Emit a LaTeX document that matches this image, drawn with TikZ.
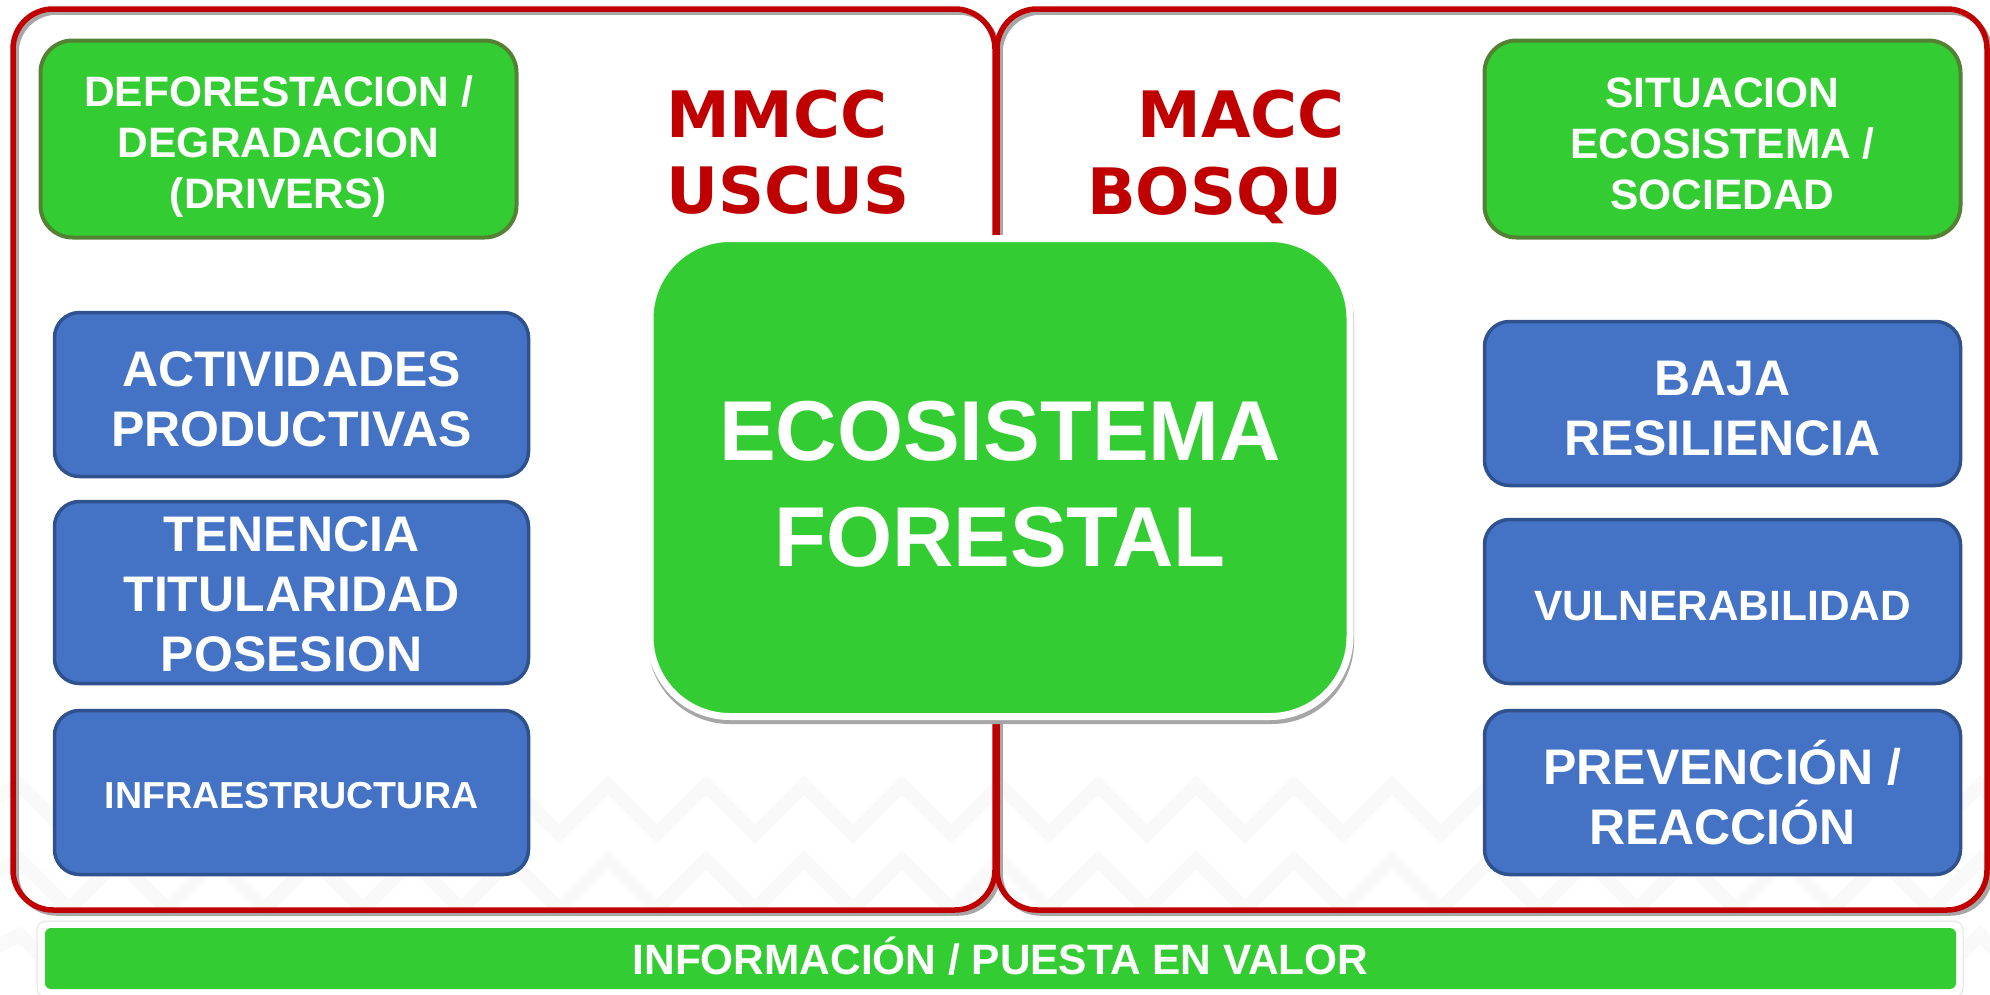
\documentclass[tikz,border=0pt]{standalone}
\usepackage{fontspec}
\setmainfont{Liberation Sans}
\newfontfamily\djv{DejaVu Sans}
\definecolor{panelred}{HTML}{C00000}
\definecolor{shadowgray}{HTML}{A6A6A6}
\definecolor{boxgreen}{HTML}{33CC33}
\definecolor{greenedge}{HTML}{548235}
\definecolor{boxblue}{HTML}{4472C4}
\definecolor{blueedge}{HTML}{2F528F}
\definecolor{patterngray}{HTML}{F9F9F9}
\newcommand{\lift}[1]{\rule{0pt}{#1pt}}
\begin{document}
\begin{tikzpicture}[x=1pt,y=-1pt,
  panelshadow/.style={draw=shadowgray, line width=4.5pt, rounded corners=40pt},
  panelline/.style={draw=panelred, line width=5.5pt, rounded corners=40pt},
  greenbox/.style={rectangle, rounded corners=32pt, fill=boxgreen, draw=greenedge,
    line width=4pt, text=white, font=\bfseries\fontsize{42.5}{51}\selectfont,
    align=center, minimum width=476pt, minimum height=197pt, inner sep=0pt},
  bluebox/.style={rectangle, rounded corners=25pt, fill=boxblue, draw=blueedge,
    line width=3.5pt, text=white, font=\bfseries\fontsize{50}{60}\selectfont,
    align=center, minimum width=474pt, minimum height=164pt, inner sep=0pt},
  redtitle/.style={text=panelred, font=\djv\bfseries\fontsize{64}{76}\selectfont,
    inner sep=0pt, align=left}
]
\useasboundingbox (0,0) rectangle (1990,994);
\fill[white] (0,0) rectangle (1990,994);

% faint zigzag background texture
\begin{scope}
\clip (0,770) rectangle (1990,994);
\foreach \yy in {785,860,935}{
  \draw[patterngray, line width=14pt, line join=miter]
    (-78,\yy+49) \foreach \k in {0,...,21}{ -- ({20+98*\k},\yy) -- ({69+98*\k},\yy+49) };
}
\end{scope}

% panels
\path[panelshadow] (16.5,12.5) rectangle (998.5,913.5);
\path[panelshadow] (1000.5,12.5) rectangle (1990.5,913.5);
\path[panelline] (13,9) rectangle (995,910);
\path[panelline] (997,9) rectangle (1987,910);

% red titles
\node[redtitle, anchor=north west] (mmcc) at (666,90) {MMCC\\USCUS};
\begin{scope}
\clip (1000,60) rectangle (1341,240);
\node[redtitle, anchor=north east] (macc) at (1345,90) {MACC};
\node[redtitle, anchor=north west] (bosq) at (1087,167) {BOSQUES};
\end{scope}

% left column
\node[greenbox] (defor) at (278.5,139) {\lift{45}DEFORESTACION /\\DEGRADACION\\(DRIVERS)};
\node[bluebox] (activ) at (291.5,394.5) {\lift{44}ACTIVIDADES\\PRODUCTIVAS};
\node[bluebox, minimum height=182pt] (tenen) at (291.5,592.5) {\lift{38}TENENCIA\\TITULARIDAD\\POSESION};
\node[bluebox, font=\bfseries\fontsize{37.6}{45}\selectfont] (infra) at (291.5,792.5) {\lift{32}INFRAESTRUCTURA};

% right column
\node[greenbox] (situ) at (1722.5,139) {\lift{39}SITUACION\\ECOSISTEMA /\\SOCIEDAD};
\node[bluebox, minimum width=476pt] (baja) at (1722.5,403.5) {\lift{44}BAJA\\RESILIENCIA};
\node[bluebox, minimum width=476pt, font=\bfseries\fontsize{42.4}{51}\selectfont] (vuln) at (1722.5,601.5) {\lift{39}VULNERABILIDAD};
\node[bluebox, minimum width=476pt] (prev) at (1722.5,792.5) {PREVENCIÓN /\\REACCIÓN};

% central box
\fill[shadowgray, rounded corners=82pt] (648,240) rectangle (1354,724);
\node[rectangle, rounded corners=80pt, fill=boxgreen, draw=white, line width=7pt,
  minimum width=700pt, minimum height=478pt, inner sep=0pt] (eco) at (1000,477.5) {};
\node[text=white, font=\bfseries\fontsize{85}{106}\selectfont, align=center, inner sep=0pt]
  (ecotext) at (1000,484) {ECOSISTEMA\\FORESTAL};

% bottom bar
\path[fill=white, draw=gray!22, line width=1pt, rounded corners=9pt] (37,921) rectangle (1963,997);
\node[rectangle, rounded corners=6pt, fill=boxgreen, minimum width=1911pt, minimum height=61pt,
  inner sep=0pt, text=white, font=\bfseries\fontsize{42.4}{50}\selectfont]
  (info) at (1000.5,958.5) {INFORMACIÓN / PUESTA EN VALOR\rule[-5pt]{0pt}{5pt}};
\end{tikzpicture}
\end{document}
